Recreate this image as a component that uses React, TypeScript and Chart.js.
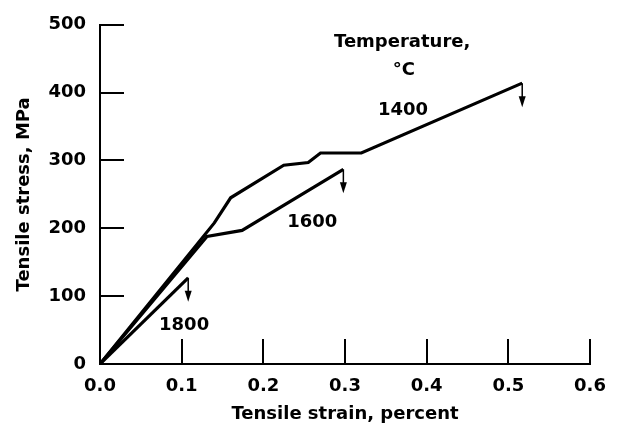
import React, { useEffect, useRef } from "react";
import { Chart, registerables } from "chart.js";

Chart.register(...registerables);

// Data
const strain1400 = [0, 0.14, 0.16, 0.225, 0.255, 0.27, 0.32, 0.517];
const stress1400 = [0, 208, 245, 293, 297, 311, 311, 414];
const strain1600 = [0, 0.131, 0.174, 0.298];
const stress1600 = [0, 188, 197, 287];
const strain1800 = [0, 0.108];
const stress1800 = [0, 127];

const xTicks = [0.1, 0.2, 0.3, 0.4, 0.5, 0.6];
const yTicks = [100, 200, 300, 400, 500];

const curveLabels = ["1400", "1600", "1800"];
const labelX = [0.371, 0.26, 0.103];
const labelY = [374, 209, 57];
const legendTitle = ["Temperature,", "°C"];
const legendTitleX = [0.37, 0.372];
const legendTitleY = [474, 433];

const FONT = "'DejaVu Sans', 'Liberation Sans', Arial, sans-serif";
const FSIZE = 18;

const toPoints = (xs: number[], ys: number[]) => xs.map((x, i) => ({ x, y: ys[i] }));

const decorPlugin = {
  id: "decor",
  afterDraw(chart: any) {
    const { ctx, chartArea, scales } = chart;
    const xs = scales.x;
    const ys = scales.y;
    ctx.save();
    ctx.strokeStyle = "#000";
    ctx.fillStyle = "#000";
    // inward ticks
    ctx.lineWidth = 2;
    ctx.beginPath();
    yTicks.forEach((v) => {
      const py = Math.round(ys.getPixelForValue(v));
      ctx.moveTo(chartArea.left, py);
      ctx.lineTo(chartArea.left + 24, py);
    });
    xTicks.forEach((v) => {
      const px = Math.round(xs.getPixelForValue(v));
      ctx.moveTo(px, chartArea.bottom);
      ctx.lineTo(px, chartArea.bottom - 25);
    });
    ctx.stroke();

    // failure arrows at the end of each curve
    chart.data.datasets.forEach((ds: any) => {
      const last = ds.data[ds.data.length - 1];
      const px = xs.getPixelForValue(last.x);
      const py = ys.getPixelForValue(last.y);
      const len = 24;
      ctx.lineWidth = 1.5;
      ctx.beginPath();
      ctx.moveTo(px, py);
      ctx.lineTo(px, py + len - 8);
      ctx.stroke();
      ctx.beginPath();
      ctx.moveTo(px - 3.5, py + len - 11);
      ctx.lineTo(px + 3.5, py + len - 11);
      ctx.lineTo(px, py + len);
      ctx.closePath();
      ctx.fill();
    });

    // text annotations
    ctx.font = `bold ${FSIZE}px ${FONT}`;
    ctx.textAlign = "center";
    ctx.textBaseline = "middle";
    curveLabels.forEach((t, i) => {
      ctx.fillText(t, xs.getPixelForValue(labelX[i]), ys.getPixelForValue(labelY[i]));
    });
    legendTitle.forEach((t, i) => {
      ctx.fillText(t, xs.getPixelForValue(legendTitleX[i]), ys.getPixelForValue(legendTitleY[i]));
    });
    ctx.restore();
  },
};

export default function App() {
  const ref = useRef<HTMLCanvasElement>(null);
  useEffect(() => {
    if (!ref.current) return;
    const lineStyle = {
      borderColor: "#000",
      borderWidth: 3.2,
      pointRadius: 0,
      tension: 0,
      fill: false,
      borderJoinStyle: "miter" as const,
    };
    const font = { family: FONT, size: FSIZE, weight: "bold" as const };
    const chart = new Chart(ref.current, {
      type: "line",
      data: {
        datasets: [
          { label: "1400", data: toPoints(strain1400, stress1400), ...lineStyle },
          { label: "1600", data: toPoints(strain1600, stress1600), ...lineStyle },
          { label: "1800", data: toPoints(strain1800, stress1800), ...lineStyle },
        ],
      },
      options: {
        animation: false,
        responsive: false,
        layout: { padding: { left: 0, right: 28, top: 14, bottom: 0 } },
        plugins: { legend: { display: false }, tooltip: { enabled: false } },
        scales: {
          x: {
            type: "linear",
            min: 0,
            max: 0.6,
            grid: { display: false, drawTicks: false },
            border: { display: true, color: "#000", width: 2 },
            ticks: {
              stepSize: 0.1,
              color: "#000",
              padding: 12,
              font,
              callback: (v: any) => Number(v).toFixed(1),
            },
            title: {
              display: true,
              text: "Tensile strain, percent",
              color: "#000",
              font,
              padding: { top: 0, bottom: 7 },
            },
            afterFit: (s: any) => {
              s.height = 68;
            },
          },
          y: {
            type: "linear",
            min: 0,
            max: 500,
            grid: { display: false, drawTicks: false },
            border: { display: true, color: "#000", width: 2 },
            ticks: {
              stepSize: 100,
              color: "#000",
              padding: 14,
              font,
            },
            title: {
              display: true,
              text: "Tensile stress, MPa",
              color: "#000",
              font,
              padding: { top: 14, bottom: 0 },
            },
            afterFit: (s: any) => {
              s.width = 100;
            },
          },
        },
      },
      plugins: [decorPlugin],
    });
    return () => chart.destroy();
  }, []);
  return (
    <div style={{ position: "fixed", left: 0, top: 0, width: 618, height: 432, background: "#fff" }}>
      <canvas ref={ref} width={618} height={432} />
    </div>
  );
}
